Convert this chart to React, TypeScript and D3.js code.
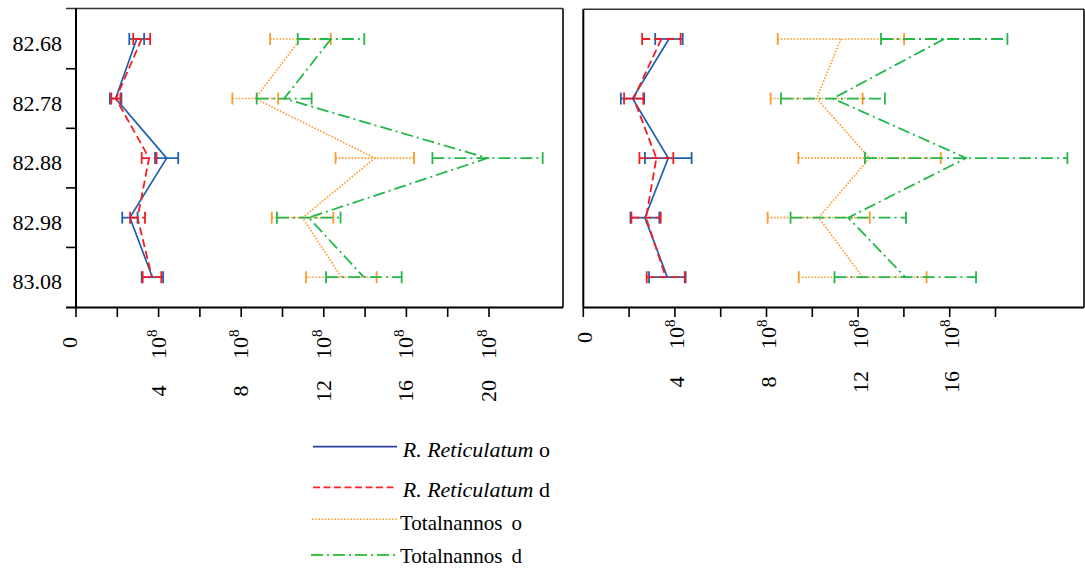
import React from "react";
import * as d3 from "d3";

// ---------- data (values in units of 10^8) ----------
const depths = ["82.68", "82.78", "82.88", "82.98", "83.08"];

const leftTickLabels = [0, 4, 8, 12, 16, 20];
const leftMinorTicks = [0, 2, 4, 6, 8, 10, 12, 14, 16, 18, 20];
const rightTickLabels = [0, 4, 8, 12, 16];
const rightMinorTicks = [0, 2, 4, 6, 8, 10, 12, 14, 16, 18];

const leftROMean = [2.94, 1.92, 4.39, 2.61, 3.7];
const leftROErr = [0.36, 0.28, 0.56, 0.37, 0.52];
const leftRDMean = [3.18, 1.93, 3.54, 2.98, 3.68];
const leftRDErr = [0.41, 0.22, 0.36, 0.36, 0.45];
const leftTOMean = [10.87, 8.68, 14.47, 10.97, 12.85];
const leftTOErr = [1.47, 1.11, 1.9, 1.49, 1.71];
const leftTDMean = [12.35, 10.08, 19.93, 11.27, 13.94];
const leftTDErr = [1.61, 1.33, 2.67, 1.54, 1.83];

const rightROMean = [3.74, 2.15, 3.71, 2.69, 3.67];
const rightROErr = [0.6, 0.51, 1.02, 0.63, 0.8];
const rightRDMean = [3.41, 2.2, 3.19, 2.74, 3.6];
const rightRDErr = [0.84, 0.42, 0.74, 0.64, 0.83];
const rightTOMean = [11.25, 10.19, 12.5, 10.28, 12.2];
const rightTOErr = [2.76, 2.01, 3.11, 2.23, 2.79];
const rightTDMean = [15.76, 10.9, 16.72, 11.57, 14.06];
const rightTDErr = [2.76, 2.27, 4.42, 2.52, 3.09];

const legendLabels = [
  { italic: "R. Reticulatum", rest: " o" },
  { italic: "R. Reticulatum", rest: " d" },
  { italic: "", rest: "Totalnannos o" },
  { italic: "", rest: "Totalnannos d" },
];

// ---------- styles ----------
const BLUE = "#1f5fae";
const RED = "#f21d24";
const ORANGE = "#ff9a2a";
const GREEN = "#22b84a";
const FONT = '"Liberation Serif", "Times New Roman", Times, serif';
const textStyle = { fontFamily: FONT };

type Style = { color: string; dash: string; width: number; legendColor: string };
const styles: Style[] = [
  { color: BLUE, dash: "none", width: 1.7, legendColor: "#2f3f9f" },
  { color: RED, dash: "8,4", width: 1.8, legendColor: "#ff2020" },
  { color: ORANGE, dash: "1.6,1.6", width: 1.6, legendColor: "#ffa020" },
  { color: GREEN, dash: "12,4,2,4", width: 1.8, legendColor: "#3ec43e" },
];

const yScale = d3.scaleBand<string>().domain(depths).range([9.2, 307]).padding(0);
const bw = yScale.bandwidth();
const yc = (d: string) => (yScale(d) as number) + bw / 2;

type PanelProps = {
  x0: number;
  x1: number;
  unit: number;
  series: { mean: number[]; err: number[] }[];
  tickLabels: number[];
  minorTicks: number[];
  showY: boolean;
  zeroDx: number;
  zeroY: number;
  numDx: number;
  numY: number;
  expY: number;
  frameLeft: number;
  frameTop: number;
  rightBorder: number;
};

function Panel(p: PanelProps) {
  const x = d3.scaleLinear().domain([0, (p.x1 - p.x0) / p.unit]).range([p.x0, p.x1]);
  const bottom = 307.5;
  return (
    <g>
      {/* frame */}
      <line x1={p.frameLeft} x2={p.rightBorder} y1={p.frameTop} y2={p.frameTop} stroke="#333" strokeWidth={1.6} />
      <line x1={p.rightBorder} x2={p.rightBorder} y1={p.frameTop} y2={bottom} stroke="#222" strokeWidth={1.8} />
      <line x1={p.frameLeft} x2={p.rightBorder} y1={bottom} y2={bottom} stroke="#000" strokeWidth={2} />
      <line x1={p.x0} x2={p.x0} y1={p.frameTop} y2={bottom} stroke="#000" strokeWidth={2} />
      {/* x ticks */}
      {p.minorTicks.map((t) => (
        <line key={"t" + t} x1={x(t)} x2={x(t)} y1={bottom} y2={317} stroke="#000" strokeWidth={1.6} />
      ))}
      {p.tickLabels.map((t) =>
        t === 0 ? (
          <text
            key={"l" + t}
            transform={`translate(${x(t) + p.zeroDx},${p.zeroY}) rotate(-90)`}
            textAnchor="end"
            style={textStyle}
            fontSize={22}
          >
            {t}
          </text>
        ) : (
          <g key={"l" + t}>
            <text
              transform={`translate(${x(t) + p.numDx},${p.expY}) rotate(-90)`}
              textAnchor="start"
              style={textStyle}
              fontSize={22}
            >
              10
              <tspan fontSize={15} dy={-9}>
                8
              </tspan>
            </text>
            <text
              transform={`translate(${x(t) + p.numDx},${p.numY}) rotate(-90)`}
              textAnchor="middle"
              style={textStyle}
              fontSize={22}
            >
              {t}
            </text>
          </g>
        )
      )}
      {/* y ticks and labels */}
      {p.showY &&
        depths.slice(1).map((d) => (
          <line key={"yt" + d} x1={66} x2={p.x0} y1={yScale(d) as number} y2={yScale(d) as number} stroke="#000" strokeWidth={1.6} />
        ))}
      {p.showY &&
        depths.map((d) => (
          <text key={"yl" + d} x={62} y={yc(d) + 12} textAnchor="end" style={textStyle} fontSize={22}>
            {d}
          </text>
        ))}
      {/* series */}
      {p.series.map((s, si) => {
        const st = styles[si];
        const line = d3
          .line<number>()
          .x((v) => x(v))
          .y((_, i) => yc(depths[i]));
        return (
          <g key={"s" + si}>
            <path d={line(s.mean) || ""} fill="none" stroke={st.color} strokeWidth={st.width} strokeDasharray={st.dash} />
            {s.mean.map((m, i) => {
              const lo = x(m - s.err[i]);
              const hi = x(m + s.err[i]);
              const y = yc(depths[i]);
              return (
                <g key={i}>
                  <line x1={lo} x2={hi} y1={y} y2={y} stroke={st.color} strokeWidth={st.width} strokeDasharray={st.dash} />
                  <line x1={lo} x2={lo} y1={y - 6} y2={y + 6} stroke={st.color} strokeWidth={1.8} />
                  <line x1={hi} x2={hi} y1={y - 6} y2={y + 6} stroke={st.color} strokeWidth={1.8} />
                </g>
              );
            })}
          </g>
        );
      })}
    </g>
  );
}

export default function App() {
  const legendRows = [
    { ly: 446.7, ty: 456.5, tx: 402.7, x1: 313, x2: 397 },
    { ly: 487.3, ty: 496.7, tx: 402.7, x1: 313, x2: 397 },
    { ly: 519.3, ty: 530, tx: 400, x1: 312, x2: 397 },
    { ly: 555, ty: 563, tx: 400, x1: 311, x2: 395 },
  ];
  return (
    <svg
      width={1085}
      height={571}
      style={{ position: "absolute", left: 0, top: 0, background: "#fff", fontFamily: FONT }}
    >
      <rect x={0} y={0} width={1085} height={571} fill="#fff" />
      <Panel
        x0={76}
        x1={563}
        unit={20.65}
        series={[
          { mean: leftROMean, err: leftROErr },
          { mean: leftRDMean, err: leftRDErr },
          { mean: leftTOMean, err: leftTOErr },
          { mean: leftTDMean, err: leftTDErr },
        ]}
        tickLabels={leftTickLabels}
        minorTicks={leftMinorTicks}
        showY={true}
        zeroDx={0.5}
        zeroY={337}
        numDx={7}
        numY={391}
        expY={359}
        frameLeft={66}
        frameTop={8.5}
        rightBorder={563}
      />
      <Panel
        x0={583.3}
        x1={1085}
        unit={22.9}
        series={[
          { mean: rightROMean, err: rightROErr },
          { mean: rightRDMean, err: rightRDErr },
          { mean: rightTOMean, err: rightTOErr },
          { mean: rightTDMean, err: rightTDErr },
        ]}
        tickLabels={rightTickLabels}
        minorTicks={rightMinorTicks}
        showY={false}
        zeroDx={8.5}
        zeroY={332}
        numDx={9.5}
        numY={382}
        expY={349}
        frameLeft={583.3}
        frameTop={9.3}
        rightBorder={1084}
      />
      {/* legend */}
      {legendRows.map((r, i) => (
        <g key={"lg" + i}>
          <line
            x1={r.x1}
            x2={r.x2}
            y1={r.ly}
            y2={r.ly}
            stroke={styles[i].legendColor}
            strokeWidth={i === 2 ? 1.5 : 1.8}
            strokeDasharray={i === 1 ? "7,3.5" : styles[i].dash}
          />
          <text x={r.tx} y={r.ty} style={textStyle} fontSize={legendLabels[i].italic ? 22 : 21}>
            {legendLabels[i].italic && <tspan fontStyle="italic">{legendLabels[i].italic}</tspan>}
            {legendLabels[i].italic ? (
              legendLabels[i].rest
            ) : (
              <>
                {legendLabels[i].rest.slice(0, -2)}
                <tspan dx={4}>{legendLabels[i].rest.slice(-2)}</tspan>
              </>
            )}
          </text>
        </g>
      ))}
    </svg>
  );
}
